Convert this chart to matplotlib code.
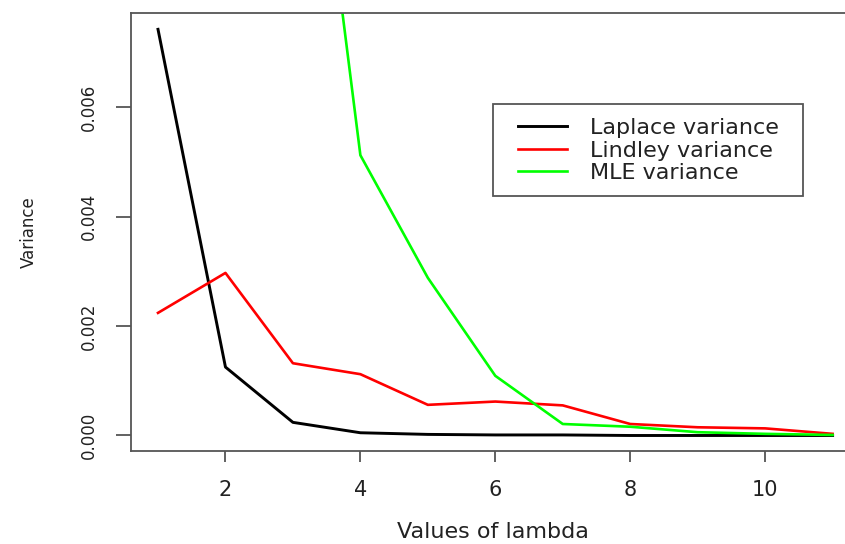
import matplotlib
matplotlib.use("Agg")
import numpy as np
import matplotlib.pyplot as plt
import matplotlib.patches as patches

# values of lambda
lam = [1, 2, 3, 4, 5, 6, 7, 8, 9, 10, 11]

# variances
laplace_var = [0.00742, 0.00125, 0.00024, 0.00005, 0.00002, 0.00001, 0.00001, 0.0, 0.0, 0.0, 0.0]
lindley_var = [0.00224, 0.00297, 0.00132, 0.00112, 0.00056, 0.00062, 0.00055, 0.00021, 0.00015, 0.00013, 0.00003]
# MLE for lambda 1 and 2 is off the top of the plot, not readable
mle_var = [np.nan, np.nan, 0.0149, 0.00512, 0.00288, 0.00109, 0.00021, 0.00016, 0.00006, 0.00003, 0.00001]

x_ticks = [2, 4, 6, 8, 10]
y_ticks = [0.0, 0.002, 0.004, 0.006]
y_tick_labels = ["0.000", "0.002", "0.004", "0.006"]

plt.rcParams['font.family'] = ['DejaVu Sans']

W, H = 845, 544
fig = plt.figure(figsize=((W + 0.1) / 100, (H + 0.1) / 100), dpi=100)
# box runs past the right edge, the reference is cropped there
ax_left, ax_bottom, ax_w, ax_h = 131, 93, 728.5, 438
ax = fig.add_axes([ax_left / W, ax_bottom / H, ax_w / W, ax_h / H])

ax.plot(lam, laplace_var, color='#000000', linewidth=2.1, label='Laplace variance')
ax.plot(lam, lindley_var, color='#ff0000', linewidth=1.9, label='Lindley variance')
ax.plot(lam, mle_var, color='#00ff00', linewidth=1.9, label='MLE variance')

ax.set_xlim(0.6, 11.4)
ax.set_ylim(-0.000283, 0.00772)

ax.set_xticks(x_ticks)
ax.set_xticklabels([str(t) for t in x_ticks])
ax.set_yticks(y_ticks)
ax.set_yticklabels(y_tick_labels)

for side in ['left', 'bottom', 'top']:
    ax.spines[side].set_color('#555555')
    ax.spines[side].set_linewidth(1.3)
ax.spines['right'].set_visible(False)

ax.tick_params(axis='x', length=7.9, width=1.3, color='#555555', pad=13,
               labelsize=15, labelcolor='#222222')
ax.tick_params(axis='y', length=10.8, width=1.3, color='#555555', pad=13,
               labelsize=12, labelcolor='#222222', labelrotation=90)
for lbl in ax.get_yticklabels():
    lbl.set_va('center')

ax.set_xlabel('Values of lambda', fontsize=16, color='#222222')
ax.xaxis.set_label_coords(0.497, -0.163)
ax.set_ylabel('Variance', fontsize=12, color='#222222')
ax.yaxis.set_label_coords(-0.128, 0.5)


def px_to_axes(px, py):
    # image pixel (from top left) -> axes fraction
    return (px - ax_left) / ax_w, (H - py - ax_bottom) / ax_h


# legend frame drawn on its own so the inner padding can match
fx0, fy0 = px_to_axes(493, 196)
fx1, fy1 = px_to_axes(803, 104)
frame = patches.Rectangle((fx0, fy0), fx1 - fx0, fy1 - fy0, transform=ax.transAxes,
                          facecolor='white', edgecolor='#555555', linewidth=1.3, zorder=4)
ax.add_patch(frame)

lx, ly = px_to_axes(518, 118)
leg = ax.legend(loc='upper left', bbox_to_anchor=(lx, ly), fontsize=16, frameon=False,
                handlelength=2.2, handletextpad=1.05, borderpad=0.0, labelspacing=0.12,
                borderaxespad=0.0)
leg.set_zorder(5)
for t in leg.get_texts():
    t.set_color('#222222')

fig.savefig('out.png', dpi=100)
